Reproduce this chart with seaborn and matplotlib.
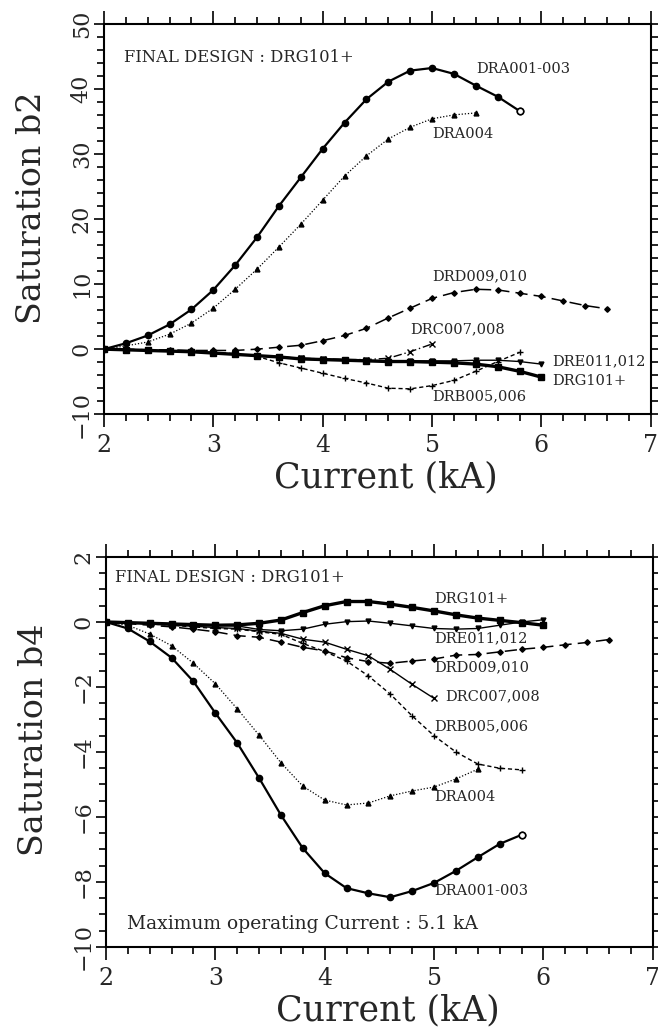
import pandas as pd
import matplotlib.pyplot as plt
import seaborn as sns
from matplotlib.ticker import MultipleLocator

sns.set_style("ticks")
plt.rcParams['font.family'] = ['DejaVu Serif']

# current values (kA), shared by all series
current = [2.0, 2.2, 2.4, 2.6, 2.8, 3.0, 3.2, 3.4, 3.6, 3.8, 4.0, 4.2,
           4.4, 4.6, 4.8, 5.0, 5.2, 5.4, 5.6, 5.8, 6.0, 6.2, 6.4, 6.6]

names = ['DRA001-003', 'DRA004', 'DRB005,006', 'DRC007,008',
         'DRD009,010', 'DRE011,012', 'DRG101+']

# saturation b2
b2_dra001 = [0, 0.9, 2.1, 3.8, 6.1, 9.1, 12.9, 17.2, 22.0, 26.4, 30.8, 34.8,
             38.4, 41.1, 42.8, 43.2, 42.3, 40.5, 38.8, 36.6]
b2_dra004 = [0, 0.5, 1.1, 2.3, 4.0, 6.3, 9.2, 12.3, 15.7, 19.2, 22.9, 26.6,
             29.7, 32.3, 34.1, 35.4, 36.0, 36.3]
b2_drb = [0, -0.1, -0.2, -0.3, -0.4, -0.5, -0.7, -1.1, -2.1, -2.9, -3.7, -4.5,
          -5.2, -6.0, -6.1, -5.6, -4.8, -3.4, -1.9, -0.5]
b2_drc = [0, -0.1, -0.2, -0.3, -0.4, -0.6, -0.8, -1.0, -1.2, -1.4, -1.5, -1.6,
          -1.6, -1.4, -0.4, 0.8]
b2_drd = [0, 0, -0.1, -0.1, -0.2, -0.2, -0.2, 0.0, 0.3, 0.6, 1.3, 2.1,
          3.2, 4.8, 6.3, 7.8, 8.7, 9.2, 9.1, 8.6, 8.1, 7.4, 6.7, 6.2]
b2_dre = [0, -0.1, -0.2, -0.3, -0.4, -0.6, -0.8, -1.0, -1.2, -1.4, -1.5, -1.6,
          -1.7, -1.8, -1.8, -1.8, -1.8, -1.7, -1.7, -1.9, -2.3]
b2_drg = [0, -0.1, -0.2, -0.3, -0.4, -0.6, -0.8, -1.0, -1.2, -1.5, -1.6, -1.7,
          -1.8, -1.9, -1.9, -2.0, -2.1, -2.3, -2.7, -3.4, -4.3]

# saturation b4
b4_dra001 = [0, -0.2, -0.6, -1.1, -1.83, -2.8, -3.72, -4.8, -5.94, -6.96, -7.73, -8.19,
             -8.35, -8.47, -8.28, -8.03, -7.66, -7.24, -6.83, -6.55]
b4_dra004 = [0, -0.1, -0.37, -0.73, -1.27, -1.9, -2.67, -3.48, -4.33, -5.05, -5.48, -5.63,
             -5.57, -5.35, -5.2, -5.08, -4.83, -4.53]
b4_drb = [0, -0.03, -0.06, -0.1, -0.15, -0.2, -0.22, -0.3, -0.38, -0.66, -0.91, -1.2,
          -1.66, -2.22, -2.89, -3.5, -4.0, -4.37, -4.5, -4.55]
b4_drc = [0, -0.03, -0.06, -0.1, -0.13, -0.17, -0.2, -0.28, -0.35, -0.53, -0.62, -0.84,
          -1.04, -1.46, -1.92, -2.35]
b4_drd = [0, -0.05, -0.1, -0.15, -0.22, -0.3, -0.42, -0.47, -0.62, -0.78, -0.89, -1.1,
          -1.22, -1.27, -1.2, -1.14, -1.02, -1.0, -0.92, -0.84, -0.78, -0.7, -0.63, -0.54]
b4_dre = [0, -0.02, -0.04, -0.06, -0.08, -0.1, -0.12, -0.23, -0.27, -0.22, -0.07, 0.01,
          0.03, -0.04, -0.12, -0.2, -0.22, -0.2, -0.1, 0.0, 0.07]
b4_drg = [0, -0.02, -0.04, -0.06, -0.08, -0.1, -0.09, -0.04, 0.06, 0.29, 0.5, 0.63,
          0.63, 0.55, 0.45, 0.34, 0.22, 0.12, 0.05, -0.02, -0.1]

b2_series = [b2_dra001, b2_dra004, b2_drb, b2_drc, b2_drd, b2_dre, b2_drg]
b4_series = [b4_dra001, b4_dra004, b4_drb, b4_drc, b4_drd, b4_dre, b4_drg]

# label anchor positions (x, y) in data units
b2_label_pos = [(5.4, 43.0), (5.0, 33.0), (5.0, -7.3), (4.8, 3.1),
                (5.0, 11.2), (6.1, -1.8), (6.1, -4.9)]
b4_label_pos = [(5.0, -8.27), (5.0, -5.4), (5.0, -3.2), (5.1, -2.3),
                (5.0, -1.38), (5.0, -0.5), (5.0, 0.72)]

styles = {
    'DRA001-003': dict(ls='-', lw=1.6, marker='o', ms=4.5),
    'DRA004': dict(ls=(0, (1, 1.5)), lw=0.9, marker='^', ms=3.5),
    'DRB005,006': dict(ls=(0, (3, 2)), lw=1.0, marker='+', ms=5),
    'DRC007,008': dict(ls=(0, (6, 2, 1, 2)), lw=1.0, marker='x', ms=4),
    'DRD009,010': dict(ls=(0, (8, 4)), lw=1.1, marker='D', ms=2.8),
    'DRE011,012': dict(ls='-', lw=1.0, marker='v', ms=3.5),
    'DRG101+': dict(ls='-', lw=2.4, marker='s', ms=4),
}

fig = plt.figure(figsize=(6.58, 10.33), dpi=100)
ax1 = fig.add_axes([0.158, 0.599, 0.831, 0.378])
ax2 = fig.add_axes([0.161, 0.0833, 0.831, 0.3775])


def draw(ax, series, label_pos, bottom=False):
    for name, vals, (lx, ly) in zip(names, series, label_pos):
        df = pd.DataFrame({'current': current[:len(vals)], 'sat': vals})
        st = dict(styles[name])
        if bottom and name == 'DRC007,008':
            st['ls'] = '-'
        sns.lineplot(data=df, x='current', y='sat', ax=ax, color='black',
                     linestyle=st['ls'], linewidth=st['lw'], marker=st['marker'],
                     markersize=st['ms'], markeredgecolor='black',
                     markeredgewidth=1.0, markerfacecolor='black')
        ax.text(lx, ly, name, fontsize=10.5, va='center', ha='left')
    # open marker at the last DRA001-003 point
    last = series[0]
    sns.scatterplot(x=[current[len(last) - 1]], y=[last[-1]], ax=ax, s=22,
                    color='white', edgecolor='black', linewidth=1.2, zorder=5)


draw(ax1, b2_series, b2_label_pos)
draw(ax2, b4_series, b4_label_pos, bottom=True)

ax1.text(2.18, 44.8, 'FINAL DESIGN : DRG101+', fontsize=11.8, va='center')
ax2.text(2.08, 1.38, 'FINAL DESIGN : DRG101+', fontsize=11.8, va='center')
ax2.text(2.19, -9.3, 'Maximum operating Current : 5.1 kA', fontsize=13.5, va='center')

ax1.set_ylim(-10, 50)
ax2.set_ylim(-10, 2)
ax1.yaxis.set_major_locator(MultipleLocator(10))
ax1.yaxis.set_minor_locator(MultipleLocator(2))
ax2.yaxis.set_major_locator(MultipleLocator(2))
ax2.yaxis.set_minor_locator(MultipleLocator(0.5))

for ax, ylab in [(ax1, 'Saturation b2'), (ax2, 'Saturation b4')]:
    ax.set_xlim(2, 7)
    ax.xaxis.set_major_locator(MultipleLocator(1))
    ax.xaxis.set_minor_locator(MultipleLocator(0.2))
    ax.tick_params(which='both', direction='out', top=True, right=True,
                   color='black', width=1.2)
    ax.tick_params(axis='x', which='major', length=9.5, labelsize=17, pad=5)
    ax.tick_params(axis='x', which='minor', length=5)
    ax.tick_params(axis='y', which='major', length=7, labelsize=16, pad=1)
    ax.tick_params(axis='y', which='minor', length=5)
    for sp in ax.spines.values():
        sp.set_visible(True)
        sp.set_linewidth(1.5)
        sp.set_color('black')
    plt.setp(ax.get_yticklabels(), rotation=90, va='center')
    ax.set_xlabel('Current (kA)', fontsize=25)
    ax.set_ylabel(ylab, fontsize=24)
    ax.xaxis.set_label_coords(0.516, -0.118)
    ax.yaxis.set_label_coords(-0.102, 0.53)

fig.savefig('out.png', dpi=100)
